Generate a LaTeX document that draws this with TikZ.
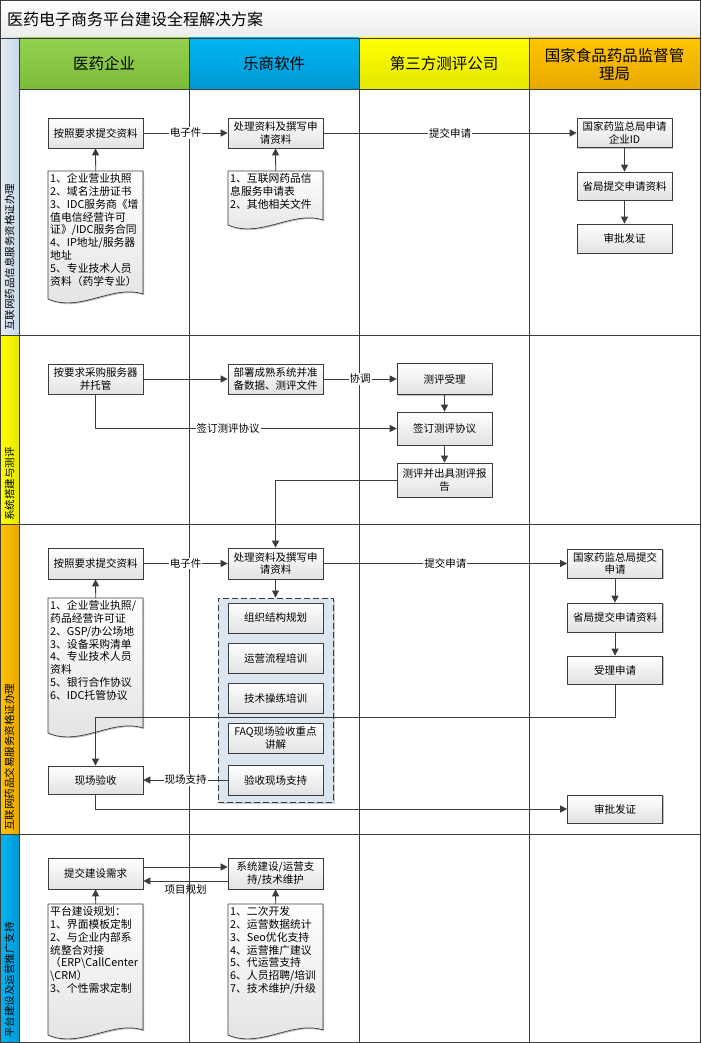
\documentclass[tikz,border=0pt]{standalone}
\usepackage{fontspec}
\setmainfont{Noto Sans CJK SC}
\usetikzlibrary{arrows.meta,shadows,calc}

\definecolor{lineg}{HTML}{3C3C3C}
\definecolor{boxbot}{HTML}{E2E2E2}
\definecolor{titlebot}{HTML}{ECECEC}
\definecolor{grtop}{HTML}{94D14E}
\definecolor{grbot}{HTML}{7DBB3C}
\definecolor{bltop}{HTML}{00B5F1}
\definecolor{blbot}{HTML}{0098D4}
\definecolor{yetop}{HTML}{FFFF00}
\definecolor{yebot}{HTML}{E6E600}
\definecolor{ortop}{HTML}{FFC400}
\definecolor{orbot}{HTML}{E9A800}
\definecolor{stripl}{HTML}{E4ECF5}
\definecolor{stripr}{HTML}{C9D8E8}
\definecolor{grpfill}{HTML}{DCE6F0}

\newcommand{\bxfont}{\fontsize{10.5}{12.5}\selectfont}
\newcommand{\dcfont}{\fontsize{10.8}{12.9}\selectfont}
\newcommand{\hdfont}{\fontsize{15.5}{18.5}\selectfont}

\tikzset{
  box/.style={draw=lineg, line width=0.7pt, top color=white, bottom color=boxbot,
    minimum width=95pt, minimum height=30pt, text width=91pt, align=center,
    inner sep=2pt, font=\bxfont,
    drop shadow={shadow xshift=1.2pt, shadow yshift=-1.2pt, fill=black, opacity=0.25}},
  docshape/.style={draw=lineg, line width=0.7pt, top color=white, bottom color=boxbot,
    drop shadow={shadow xshift=1.2pt, shadow yshift=-1.2pt, fill=black, opacity=0.25}},
  doctext/.style={text width=91pt, align=left, inner sep=2pt, font=\dcfont},
  group/.style={draw=lineg, dashed, dash pattern=on 6pt off 3pt, line width=0.9pt,
    fill=grpfill, minimum width=115pt, minimum height=204pt,
    drop shadow={shadow xshift=1.5pt, shadow yshift=-1.5pt, fill=black, opacity=0.2}},
  link/.style={draw=lineg, line width=0.8pt, -{Triangle[length=7pt,width=7pt]}},
  lbl/.style={fill=white, inner sep=1pt, font=\bxfont},
  gridline/.style={draw=lineg, line width=0.8pt},
  lanelbl/.style={font=\bxfont, rotate=90, anchor=west, inner sep=0pt},
  header/.style={font=\hdfont, align=center}
}

% document shape: name, x, y, height, text
\newcommand{\docnode}[5]{%
  \path[docshape] (#2,#3) -- ++(95,0) -- ++(0,#4-5)
    .. controls +(-30,-10) and +(32,14) .. (#2,#3+#4) -- cycle;
  \node[doctext, anchor=north west] (#1) at (#2,#3) {#5};
}

\begin{document}
\begin{tikzpicture}[x=1pt, y=-1pt]
  \useasboundingbox (0,0) rectangle (701,1043);
  \fill[white] (0,0) rectangle (701,1043);

  % Title bar and lane headers
  \path[top color=white, bottom color=titlebot] (0.5,0.5) rectangle (700.5,38);
  \path[top color=grtop, bottom color=grbot] (19,38) rectangle (189,89);
  \path[top color=bltop, bottom color=blbot] (189,38) rectangle (359,89);
  \path[top color=yetop, bottom color=yebot] (359,38) rectangle (529,89);
  \path[top color=ortop, bottom color=orbot] (529,38) rectangle (700.5,89);

  % Left strips
  \path[left color=stripl, right color=stripr] (0.5,38) rectangle (19,335);
  \path[left color=yetop, right color=yebot] (0.5,335) rectangle (19,524);
  \path[left color=ortop, right color=orbot] (0.5,524) rectangle (19,834);
  \path[left color=bltop, right color=blbot] (0.5,834) rectangle (19,1042.5);

  % Grid
  \draw[gridline] (0.5,0.5) rectangle (700.5,1042.5);
  \draw[gridline] (0.5,38) -- (700.5,38);
  \draw[gridline] (19,89) -- (700.5,89);
  \foreach \y in {335,524,834}
    \draw[gridline] (0.5,\y) -- (700.5,\y);
  \foreach \x in {19,189,359,529}
    \draw[gridline] (\x,38) -- (\x,1042.5);

  \node[font=\fontsize{16}{19}\selectfont, anchor=west, inner sep=0pt] (title) at (7,19) {医药电子商务平台建设全程解决方案};
  \node[header] (hqy) at (104,63.5) {医药企业};
  \node[header] (hls) at (274,63.5) {乐商软件};
  \node[header] (hdsf) at (444,63.5) {第三方测评公司};
  \node[header] (hgj) at (614.5,64.5) {国家食品药品监督管\\理局};

  \node[lanelbl] (lane1) at (9.5,331) {互联网药品信息服务资格证办理};
  \node[lanelbl] (lane2) at (9.5,521) {系统搭建与测评};
  \node[lanelbl] (lane3) at (9.5,831) {互联网药品交易服务资格证办理};
  \node[lanelbl] (lane4) at (9.5,1038) {平台建设及运营推广支持};

  % Lane 1
  \node[box] (r1a) at (95.5,133) {按照要求提交资料};
  \node[box] (r1b) at (275.5,133) {处理资料及撰写申\\请资料};
  \node[box, minimum height=29pt] (r1c) at (624.5,133) {国家药监总局申请\\企业ID};
  \node[box, minimum height=28pt] (r1d) at (624.5,186) {省局提交申请资料};
  \node[box, minimum height=29pt] (r1e) at (624.5,238.5) {审批发证};
  \docnode{r1doca}{48}{171}{128}{1、企业营业执照\\2、域名注册证书\\3、IDC服务商《增\\值电信经营许可\\证》/IDC服务合同\\4、IP地址/服务器\\地址\\5、专业技术人员\\资料（药学专业）}
  \docnode{r1docb}{228}{171}{54}{1、互联网药品信\\息服务申请表\\2、其他相关文件}

  \draw[link] (r1a) -- node[lbl]{电子件} (r1b);
  \draw[link] (r1b) -- node[lbl]{提交申请} (r1c);
  \draw[link] (r1doca.north) -- (r1a.south);
  \draw[link] (r1docb.north) -- (r1b.south);
  \draw[link] (r1c) -- (r1d);
  \draw[link] (r1d) -- (r1e);

  % Lane 2
  \node[box] (r2a) at (95.5,379) {按要求采购服务器\\并托管};
  \node[box] (r2b) at (275.5,379) {部署成熟系统并准\\备数据、测评文件};
  \node[box, minimum height=31pt] (r2c) at (444.5,379) {测评受理};
  \node[box, minimum height=33pt] (r2d) at (444.5,428.5) {签订测评协议};
  \node[box, minimum height=34pt] (r2e) at (444.5,480) {测评并出具测评报\\告};

  \draw[link] (r2a) -- (r2b);
  \draw[link] (r2b) -- node[lbl]{协调} (r2c);
  \draw[link] (r2c) -- (r2d);
  \draw[link] (r2d) -- (r2e);
  \draw[link] (r2a.south) |- node[lbl, pos=0.72]{签订测评协议} (r2d.west);

  % Lane 3
  \node[box, minimum height=31pt] (r3a) at (95.5,563.5) {按照要求提交资料};
  \node[box, minimum height=31pt] (r3b) at (275.5,563.5) {处理资料及撰写申\\请资料};
  \node[box, minimum height=29pt] (r3c) at (615,563.5) {国家药监总局提交\\申请};
  \node[box, minimum height=29pt] (r3d) at (615,617.5) {省局提交申请资料};
  \node[box, minimum height=28pt] (r3e) at (615,670) {受理申请};
  \docnode{r3doc}{48}{598}{135}{1、企业营业执照/\\药品经营许可证\\2、GSP/办公场地\\3、设备采购清单\\4、专业技术人员\\资料\\5、银行合作协议\\6、IDC托管协议}

  \node[group] (grp) at (275.5,700) {};
  \node[box] (g1) at (275.5,618) {组织结构规划};
  \node[box] (g2) at (275.5,658) {运营流程培训};
  \node[box] (g3) at (275.5,698) {技术操练培训};
  \node[box] (g4) at (275.5,738) {FAQ现场验收重点\\讲解};
  \node[box] (g5) at (275.5,780) {验收现场支持};

  \node[box, minimum height=28pt] (r3f) at (95.5,780) {现场验收};
  \node[box, minimum height=28pt] (r3g) at (615,809) {审批发证};
  \coordinate (r3turn) at (95.5,717);

  \draw[link] (r2e.west) -| (r3b.north);
  \draw[link] (r3a) -- node[lbl]{电子件} (r3b);
  \draw[link] (r3b) -- node[lbl]{提交申请} (r3c);
  \draw[link] (r3doc.north) -- (r3a.south);
  \draw[link] (r3c) -- (r3d);
  \draw[link] (r3d) -- (r3e);
  \draw[link] (r3b.south) -- (grp.north);
  \draw[link] (g5) -- node[lbl]{现场支持} (r3f);
  \draw[link] (r3e.south) |- (r3turn) -- (r3f.north);
  \draw[link] (r3f.south) |- (r3g.west);

  % Lane 4
  \node[box, minimum height=31pt] (r4a) at (95.5,873.5) {提交建设需求};
  \node[box, minimum height=31pt] (r4b) at (275.5,873.5) {系统建设/运营支\\持/技术维护};
  \docnode{r4doca}{48}{904}{131}{平台建设规划：\\1、界面模板定制\\2、与企业内部系\\统整合对接\\（ERP\textbackslash CallCenter\\\textbackslash CRM）\\3、个性需求定制}
  \docnode{r4docb}{228}{904}{131}{1、二次开发\\2、运营数据统计\\3、Seo优化支持\\4、运营推广建议\\5、代运营支持\\6、人员招聘/培训\\7、技术维护/升级}

  \draw[link] ([yshift=6.5pt]r4a.east) -- ([yshift=6.5pt]r4b.west);
  \draw[link] ([yshift=-7.5pt]r4b.west) -- node[lbl, below=2pt, fill=none]{项目规划} ([yshift=-7.5pt]r4a.east);
  \draw[link] (r4doca.north) -- (r4a.south);
  \draw[link] (r4docb.north) -- (r4b.south);
\end{tikzpicture}
\end{document}
